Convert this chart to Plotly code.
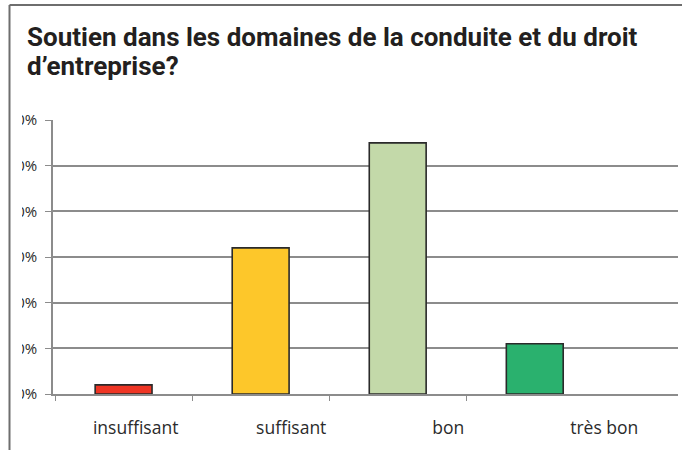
import plotly.graph_objects as go

categories = ["insuffisant", "suffisant", "bon", "très bon"]
shares = [0.02, 0.32, 0.55, 0.11]
bar_colors = ["#EE3524", "#FDC72A", "#C3D9A9", "#2AB16E"]
y_ticks = [0, 0.1, 0.2, 0.3, 0.4, 0.5, 0.6]
title_lines = ["Soutien dans les domaines de la conduite et du droit", "d’entreprise?"]

W, H = 682, 450
ML, MR, MT, MB = 53, 4, 120, 56
PW, PH = W - ML - MR, H - MT - MB
X_RANGE = [-0.515, 4.045]
# in the source image the category labels sit on a slightly wider pitch than the bars
LABEL_POS = [0.088, 1.223, 2.369, 3.507]


def px_x(px):
    return (px - ML) / PW


def px_y(py):
    return (H - MB - py) / PH


grid = "#8c8c8c"
label_font = dict(family="Open Sans", size=17.5, color="#2b2b2b")

fig = go.Figure()
fig.add_trace(
    go.Bar(
        x=categories,
        y=shares,
        width=0.415,
        marker=dict(color=bar_colors, line=dict(color="#2a2a2a", width=1.6)),
        hoverinfo="x+y",
    )
)
# empty traces carrying the boundary ticks and the shifted labels
fig.add_trace(go.Scatter(x=[], y=[], xaxis="x2", showlegend=False, hoverinfo="skip"))
fig.add_trace(go.Scatter(x=[], y=[], xaxis="x3", showlegend=False, hoverinfo="skip"))

fig.update_layout(
    width=W,
    height=H,
    margin=dict(l=ML, r=MR, t=MT, b=MB),
    paper_bgcolor="white",
    plot_bgcolor="white",
    showlegend=False,
    xaxis=dict(
        type="category",
        range=X_RANGE,
        showgrid=False,
        ticks="",
        showticklabels=False,
        showline=True,
        linecolor=grid,
        linewidth=1.5,
        fixedrange=True,
    ),
    xaxis2=dict(
        overlaying="x",
        range=X_RANGE,
        tickvals=[-0.5, 0.5, 1.5, 2.5],
        showticklabels=False,
        ticks="outside",
        ticklen=6,
        tickcolor=grid,
        tickwidth=1.3,
        showgrid=False,
        zeroline=False,
        side="bottom",
        fixedrange=True,
    ),
    xaxis3=dict(
        overlaying="x",
        range=X_RANGE,
        tickvals=LABEL_POS,
        ticktext=categories,
        tickfont=label_font,
        ticks="",
        ticklabelstandoff=21,
        showgrid=False,
        zeroline=False,
        side="bottom",
        fixedrange=True,
    ),
    yaxis=dict(
        range=[0, 0.6],
        tickvals=y_ticks,
        tickformat=".0%",
        tickfont=dict(family="Open Sans", size=15, color="#2b2b2b"),
        ticks="outside",
        ticklen=6,
        tickcolor=grid,
        tickwidth=1.3,
        ticklabelstandoff=5,
        showgrid=True,
        gridcolor=grid,
        gridwidth=1.5,
        showline=True,
        linecolor=grid,
        linewidth=1.5,
        zeroline=False,
        fixedrange=True,
    ),
)

# title, two lines set a little tighter than plotly's default line height
for i, line in enumerate(title_lines):
    fig.add_annotation(
        text=line,
        xref="paper",
        yref="paper",
        x=px_x(25),
        y=px_y(37 + 29 * i),
        xanchor="left",
        yanchor="middle",
        showarrow=False,
        font=dict(family="Roboto", size=26, color="#231f20", weight="bold"),
    )

# cropped frame of the original figure
fig.add_shape(type="rect", xref="paper", yref="paper", layer="above",
              x0=px_x(-5), x1=px_x(22), y0=px_y(H + 5), y1=px_y(100),
              fillcolor="white", line=dict(width=0))
fig.add_shape(type="line", xref="paper", yref="paper", layer="above",
              x0=px_x(9.5), x1=px_x(9.5), y0=px_y(5), y1=px_y(H + 5),
              line=dict(color="#6e6e6e", width=2))
fig.add_shape(type="line", xref="paper", yref="paper", layer="above",
              x0=px_x(9.5), x1=px_x(W + 5), y0=px_y(5), y1=px_y(5),
              line=dict(color="#6e6e6e", width=2))

fig.write_html(
    "out.html",
    config={"displayModeBar": False},
    post_script="document.body.style.margin = '0px';",
)
